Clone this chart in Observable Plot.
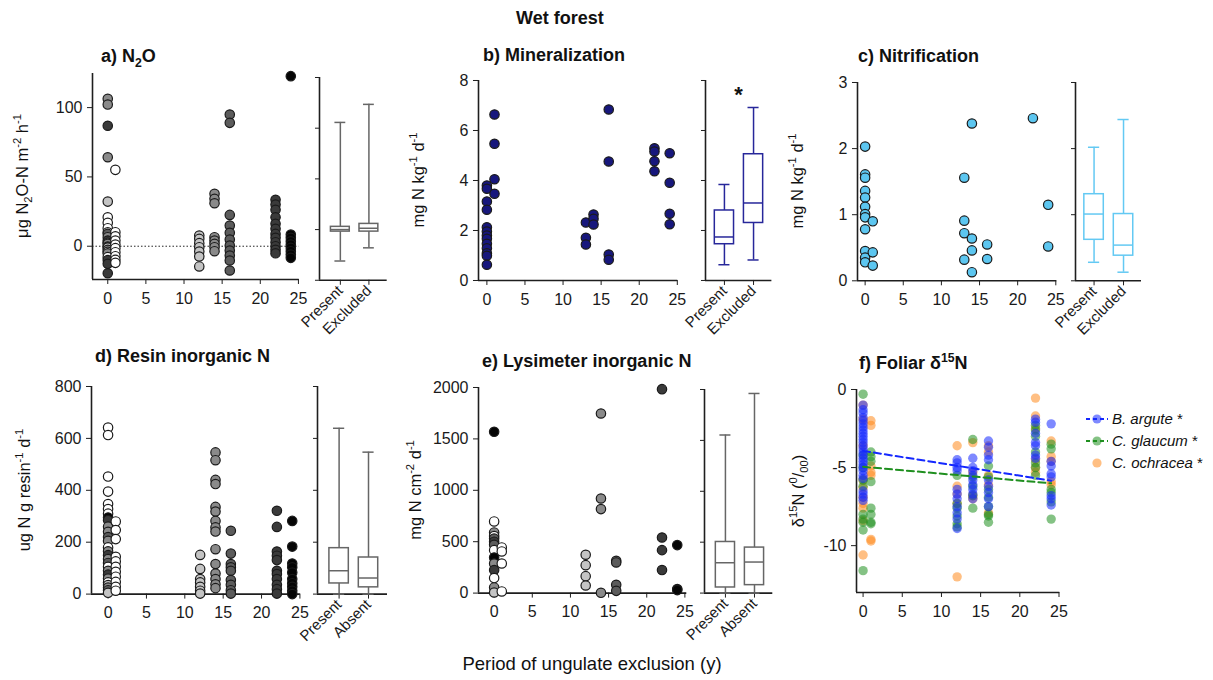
<!DOCTYPE html>
<html><head><meta charset="utf-8">
<script src="https://cdn.jsdelivr.net/npm/d3@7"></script>
<script src="https://cdn.jsdelivr.net/npm/@observablehq/plot@0.6"></script>
<style>
body{margin:0;background:#fff;}
#chart{position:relative;width:1213px;height:680px;background:#fff;font-family:"Liberation Sans",Arial,Helvetica,sans-serif;color:#111;overflow:hidden}
.t{position:absolute;font-weight:bold;font-size:18px;line-height:1;white-space:nowrap}
.yl{position:absolute;font-size:16.5px;line-height:1;white-space:nowrap;transform:translate(-50%,-50%) rotate(-90deg)}
sub,sup{font-size:68%;line-height:0}
.leg{position:absolute;font-size:15px;line-height:22px}
.leg div{display:flex;align-items:center;height:22px;white-space:nowrap}
.leg svg{margin-right:3px}
</style></head><body><div id="chart"></div>
<script>
// ---------- shared ----------
const xTicks = [0, 5, 10, 15, 20, 25];
const pairKeys = ["1", "12", "14", "16", "22", "24"];

// ---------- a) N2O ----------
const n2oTicks = [0, 50, 100];
const n2oCtrl = [106.3, 102.2, 86.9, 64.2, 32.2, 20.9, 16.9, 13.0, 10.0, 8.9, 6.5, 4.1, 2.5, 1.7, -0.2, -1.0, -2.6, -4.0, -5.1, -7.9, -10.0, -12.7, -19.5];
const n2oCtrlPair = ["14","14","22","14","12","1","1","1","1","16","14","22","1","14","16","12","14","1","14","1","22","22","22"];
const n2oAge1 = [55.1, 10.1, 7.2, 4.1, 1.2, -1.4, -4.3, -7.2, -9.8, -12.0];
const n2oAge12 = [7.7, 5.3, 2.2, -0.7, -3.8, -7.4, -14.6];
const n2oAge14 = [37.8, 34.2, 31.0, 6.5, 4.1, 1.7, -0.7, -3.6];
const n2oAge16 = [95.0, 89.0, 22.6, 14.9, 9.7, 4.8, 0.5, -3.1, -6.7, -10.3, -17.5];
const n2oAge22 = [33.5, 30.1, 26.3, 20.9, 16.2, 12.6, 8.9, 6.1, 2.9, 0.0, -2.6, -5.1];
const n2oAge24 = [122.7, 8.4, 6.1, 3.6, 1.2, -1.2, -3.6, -6.0, -8.4];
const n2oBoxGroups = ["Present", "Excluded"];
const n2oBoxTicks = [-50, 0, 50, 100, 150];
const n2oBoxMin = [-31, -18], n2oBoxQ1 = [-2, -2], n2oBoxMed = [0, 1.3], n2oBoxQ3 = [2.7, 5.6], n2oBoxMax = [105.7, 123.5];

// ---------- b) Mineralization ----------
const minTicks = [0, 2, 4, 6, 8];
const minAge0 = [3.8, 3.67, 3.16, 2.83, 2.13, 1.96, 1.8, 1.67, 1.47, 1.29, 1.09, 0.99, 0.63];
const minAge1 = [6.64, 5.47, 4.05, 3.47];
const minAge13 = [2.32, 1.71, 1.44];
const minAge14 = [2.64, 2.47, 2.24];
const minAge16 = [6.84, 4.76, 1.04, 0.83];
const minAge22 = [5.29, 5.16, 4.77, 4.37];
const minAge24 = [5.09, 3.91, 2.67, 2.25];
const minBoxGroups = ["Present", "Excluded"];
const minBoxMin = [0.63, 0.82], minBoxQ1 = [1.45, 2.3], minBoxMed = [1.74, 3.1], minBoxQ3 = [2.8, 5.05], minBoxMax = [3.84, 6.92];
const minSignif = "*";

// ---------- c) Nitrification ----------
const nitTicks = [0, 1, 2, 3];
const nitAge0 = [2.03, 1.61, 1.56, 1.36, 1.26, 1.12, 1.01, 0.96, 0.78, 0.45, 0.35, 0.28];
const nitAge1 = [0.9, 0.43, 0.23];
const nitAge13 = [1.56, 0.91, 0.72, 0.32];
const nitAge14 = [2.38, 0.64, 0.46, 0.13];
const nitAge16 = [0.55, 0.33];
const nitAge22 = [2.46];
const nitAge24 = [1.15, 0.52];
const nitBoxGroups = ["Present", "Excluded"];
const nitBoxMin = [0.28, 0.13], nitBoxQ1 = [0.62, 0.38], nitBoxMed = [1.01, 0.54], nitBoxQ3 = [1.31, 1.01], nitBoxMax = [2.02, 2.44];

// ---------- d) Resin inorganic N ----------
const resTicks = [0, 200, 400, 600, 800];
const resCtrl = [642, 613, 453, 395, 347, 328, 310, 295, 285, 260, 240, 220, 205, 180, 165, 150, 135, 120, 105, 90, 75, 60, 45, 35, 25, 15, 5];
const resCtrlPair = ["1","1","1","1","1","1","1","24","22","14","14","16","14","1","14","22","14","16","1","14","22","14","1","12","14","16","12"];
const resAge1 = [280, 247, 212, 144, 126, 105, 86, 67, 47, 28, 13];
const resAge12 = [151, 97, 58, 45, 28, 13, 2];
const resAge14 = [546, 516, 440, 424, 336, 318, 282, 257, 241, 173, 116, 79, 58, 38, 23];
const resAge16 = [244, 156, 116, 103, 90, 54, 36, 15, 2];
const resAge22 = [321, 259, 164, 148, 131, 90, 77, 58, 36, 19, 2];
const resAge24 = [282, 183, 118, 103, 83, 58, 42, 28, 13, 0];
const resBoxGroups = ["Present", "Absent"];
const resBoxMin = [0, 0], resBoxQ1 = [41, 26], resBoxMed = [90, 62], resBoxQ3 = [177, 141], resBoxMax = [639, 547];

// ---------- e) Lysimeter inorganic N ----------
const lysTicks = [0, 500, 1000, 1500, 2000];
const lysCtrl = [1569, 697, 590, 555, 530, 500, 470, 418, 346, 288, 224, 146, 55, 6];
const lysCtrlPair = ["24","1","14","1","16","22","16","1","24","14","22","1","14","12"];
const lysAge1 = [444, 405, 288, 16];
const lysAge12 = [373, 272, 165, 74];
const lysAge14 = [1747, 920, 817, 3];
const lysAge16 = [314, 298, 81, 22];
const lysAge22 = [1984, 541, 418, 224];
const lysAge24 = [467, 39, 29];
const lysBoxGroups = ["Present", "Absent"];
const lysBoxMin = [0, 0], lysBoxQ1 = [55, 78], lysBoxMed = [298, 305], lysBoxQ3 = [502, 447], lysBoxMax = [1553, 1961];

// ---------- f) Foliar d15N ----------
const folTicks = [-10, -5, 0];
const folAges = [0, 1, 12, 14, 16, 22, 24];
const argute = [
  [-1.0,-1.3,-1.5,-1.8,-2.0,-2.2,-2.4,-2.6,-2.8,-3.0,-3.2,-3.4,-3.6,-3.8,-4.0,-4.2,-4.4,-4.6,-4.8,-5.0,-5.2,-5.5,-5.7,-6.5,-6.7,-6.9,-7.1],
  [],
  [-4.5,-4.7,-5.0,-5.2,-6.4,-6.7,-7.0,-7.5,-7.9,-8.3,-8.9],
  [-4.4,-5.0,-5.2,-5.5,-5.8,-6.1,-6.4,-6.7,-7.0],
  [-3.3,-3.7,-4.2,-4.5,-5.8,-6.2,-6.6,-7.0,-7.5],
  [-1.9,-2.1,-2.8,-3.4,-3.6,-4.2,-4.4],
  [-2.2,-4.6,-4.9,-5.4,-5.6,-6.8,-7.0,-7.4]
];
const glaucum = [
  [-0.3,-4.2,-5.0,-5.8,-6.2,-8.0,-8.3,-8.5,-9.0,-11.6],
  [-4.0,-4.3,-4.6,-5.9,-7.6,-8.0,-8.5,-8.6],
  [-5.5,-7.3,-7.6,-8.1,-8.6,-8.8],
  [-3.2,-5.6,-6.2,-6.8,-7.6],
  [-4.9,-5.6,-6.4,-6.9,-7.5,-8.0,-8.1,-8.5],
  [-2.3,-2.6,-3.0,-4.0,-4.7,-5.0,-5.5],
  [-3.5,-3.8,-6.4,-6.6,-7.2,-8.3]
];
const ochracea = [
  [-1.0,-1.9,-3.6,-5.8,-6.3,-6.9,-7.3,-7.6,-8.4,-10.6],
  [-2.0,-2.3,-4.9,-5.3,-5.5,-9.6,-9.7],
  [-3.6,-6.2,-6.7,-7.3,-12.0],
  [-3.4,-5.3,-6.8,-7.0],
  [-3.6,-4.0,-5.5,-6.1,-7.9],
  [-0.55,-1.7,-2.5,-4.5,-5.0,-5.3],
  [-3.3,-4.3,-4.6,-5.9,-6.1]
];
const trendAges = [0, 24];
const arguteTrend = [-3.93, -5.84];
const glaucumTrend = [-4.95, -6.01];

// ---------- helpers ----------
const root = document.getElementById("chart");
const FONT = '"Liberation Sans", Arial, Helvetica, sans-serif';
const AX = "#1e1e1e";
const TICK_FS = 16;

function place(fr, opts) {
  const [x0, x1, y0, y1] = fr;
  const ml = 50, mr = 20, mt = 12, mb = 70;
  const svg = Plot.plot({
    width: x1 - x0 + ml + mr,
    height: y1 - y0 + mt + mb,
    marginLeft: ml, marginRight: mr, marginTop: mt, marginBottom: mb,
    style: {fontFamily: FONT, fontSize: "16px", color: "#1a1a1a", background: "transparent", overflow: "visible"},
    ...opts
  });
  svg.style.position = "absolute";
  svg.style.left = (x0 - ml) + "px";
  svg.style.top = (y0 - mt) + "px";
  svg.style.maxWidth = "none";
  root.appendChild(svg);
}

function rows(age, vals, pair) {
  return vals.map((v, i) => ({age, v, pair: pair ? pair[i] : String(age)}));
}

function scatter(fr, xDomain, yDomain, yTicks, marks, extra = [], colorOpt) {
  place(fr, {
    x: {domain: xDomain},
    y: {domain: yDomain},
    color: colorOpt,
    marks: [
      ...extra,
      Plot.ruleX([xDomain[0]], {stroke: AX, strokeWidth: 1.6}),
      Plot.ruleY([yDomain[0]], {stroke: AX, strokeWidth: 1.6}),
      Plot.axisX({ticks: xTicks, tickSize: 5, tickPadding: 8, label: null, stroke: AX, fontSize: TICK_FS}),
      Plot.axisY({ticks: yTicks, tickSize: 5, tickPadding: 5, label: null, stroke: AX, fontSize: TICK_FS, tickFormat: d => String(d)}),
      ...marks
    ]
  });
}

function boxPanel(fr, xDomain, yDomain, yTicks, groups, mins, q1s, meds, q3s, maxs, stroke, extra = []) {
  const data = groups.map((g, i) => ({i, g, min: mins[i], q1: q1s[i], med: meds[i], q3: q3s[i], max: maxs[i]}));
  const hw = 0.33, cw = 0.19;
  place(fr, {
    x: {domain: xDomain},
    y: {domain: yDomain},
    marks: [
      Plot.ruleX([xDomain[0]], {stroke: AX, strokeWidth: 1.6}),
      Plot.ruleY([yDomain[0]], {stroke: AX, strokeWidth: 1.6}),
      Plot.axisX({ticks: groups.map((g, i) => i), tickFormat: i => groups[i], tickRotate: -45, tickSize: 5, tickPadding: 3, label: null, stroke: AX, fontSize: 15}),
      Plot.axisY({ticks: yTicks, tickFormat: () => "", tickSize: 4, label: null, stroke: AX}),
      Plot.ruleX(data, {x: "i", y1: "min", y2: "q1", stroke, strokeWidth: 1.5}),
      Plot.ruleX(data, {x: "i", y1: "q3", y2: "max", stroke, strokeWidth: 1.5}),
      Plot.rect(data, {x1: d => d.i - hw, x2: d => d.i + hw, y1: "q1", y2: "q3", fill: "white", stroke, strokeWidth: 1.5}),
      Plot.ruleY(data, {y: "med", x1: d => d.i - hw, x2: d => d.i + hw, stroke, strokeWidth: 1.5}),
      Plot.ruleY(data, {y: "max", x1: d => d.i - cw, x2: d => d.i + cw, stroke, strokeWidth: 1.5}),
      Plot.ruleY(data, {y: "min", x1: d => d.i - cw, x2: d => d.i + cw, stroke, strokeWidth: 1.5}),
      ...extra.map(f => f(data))
    ]
  });
}

const grayScale = {type: "ordinal", domain: pairKeys, range: ["#ffffff", "#c4c4c4", "#8a8a8a", "#5c5c5c", "#3a3a3a", "#050505"]};
const dotStyle = {r: 4.7, stroke: "#1a1a1a", strokeWidth: 1.2};

// a) N2O
const n2oData = [
  ...rows(0, n2oCtrl, n2oCtrlPair), ...rows(1, n2oAge1), ...rows(12, n2oAge12), ...rows(14, n2oAge14),
  ...rows(16, n2oAge16), ...rows(22, n2oAge22), ...rows(24, n2oAge24)
];
scatter([92.3, 299, 73, 279], [-2.0, 25.1], [-24, 124.6], n2oTicks,
  [Plot.dot(n2oData, {x: "age", y: "v", fill: "pair", ...dotStyle})],
  [Plot.ruleY([0], {stroke: "#222", strokeWidth: 1, strokeDasharray: "1.5,2"})], grayScale);
boxPanel([319.3, 387, 76.7, 279.5], [-0.73, 1.64], [-50, 150], n2oBoxTicks, n2oBoxGroups,
  n2oBoxMin, n2oBoxQ1, n2oBoxMed, n2oBoxQ3, n2oBoxMax, "#666");

// b) Mineralization
const minData = [...rows(0, minAge0), ...rows(1, minAge1), ...rows(13, minAge13), ...rows(14, minAge14),
  ...rows(16, minAge16), ...rows(22, minAge22), ...rows(24, minAge24)];
scatter([478.3, 677.5, 80, 280], [-1.1, 25.05], [0, 8], minTicks,
  [Plot.dot(minData, {x: "age", y: "v", fill: "#17177c", ...dotStyle})]);
boxPanel([705.3, 771.7, 80, 280], [-0.65, 1.63], [0, 8], minTicks, minBoxGroups,
  minBoxMin, minBoxQ1, minBoxMed, minBoxQ3, minBoxMax, "#27279a",
  [data => Plot.text([data[1]], {x: "i", y: "max", text: () => minSignif, dx: -15, dy: -13, fontSize: 22, fontWeight: "bold", fill: "#111"})]);

// c) Nitrification
const nitData = [...rows(0, nitAge0), ...rows(1, nitAge1), ...rows(13, nitAge13), ...rows(14, nitAge14),
  ...rows(16, nitAge16), ...rows(22, nitAge22), ...rows(24, nitAge24)];
scatter([856.7, 1056, 81.7, 280], [-1.0, 25.13], [0, 3], nitTicks,
  [Plot.dot(nitData, {x: "age", y: "v", fill: "#5cc6f0", ...dotStyle})]);
boxPanel([1074.7, 1140.7, 81.7, 280], [-0.63, 1.61], [0, 3], nitTicks, nitBoxGroups,
  nitBoxMin, nitBoxQ1, nitBoxMed, nitBoxQ3, nitBoxMax, "#63c9f3");

// d) Resin
const resData = [
  ...rows(0, resCtrl, resCtrlPair), ...rows(1, resAge1), ...rows(12, resAge12), ...rows(14, resAge14),
  ...rows(16, resAge16), ...rows(22, resAge22), ...rows(24, resAge24)
];
scatter([90.7, 299.5, 385.7, 593.3], [-2.16, 25.05], [0, 800], resTicks,
  [Plot.dot(resData, {x: "age", y: "v", fill: "pair", ...dotStyle})], [], grayScale);
boxPanel([316.7, 386.7, 385.7, 593.3], [-0.735, 1.646], [0, 800], resTicks, resBoxGroups,
  resBoxMin, resBoxQ1, resBoxMed, resBoxQ3, resBoxMax, "#666");

// e) Lysimeter
const lysData = [
  ...rows(0, lysCtrl, lysCtrlPair), ...rows(1, lysAge1), ...rows(12, lysAge12), ...rows(14, lysAge14),
  ...rows(16, lysAge16), ...rows(22, lysAge22), ...rows(24, lysAge24)
];
scatter([477.7, 686, 386.7, 592.3], [-2.05, 25.25], [0, 2000], lysTicks,
  [Plot.dot(lysData, {x: "age", y: "v", fill: "pair", ...dotStyle})], [], grayScale);
boxPanel([704, 772.3, 388.7, 592.3], [-0.72, 1.63], [0, 2000], lysTicks, lysBoxGroups,
  lysBoxMin, lysBoxQ1, lysBoxMed, lysBoxQ3, lysBoxMax, "#666");

// f) Foliar
function species(arr) { return arr.flatMap((vals, k) => rows(folAges[k], vals)); }
const trend = (vals) => trendAges.map((a, i) => ({age: a, v: vals[i]}));
scatter([855.7, 1059, 389.3, 592.3], [-0.84, 25.1], [-13, 0], folTicks, [
  Plot.dot(species(ochracea), {x: "age", y: "v", r: 4.7, fill: "#ff8a1e", fillOpacity: 0.55}),
  Plot.dot(species(glaucum), {x: "age", y: "v", r: 4.7, fill: "#1f8f1f", fillOpacity: 0.55}),
  Plot.dot(species(argute), {x: "age", y: "v", r: 4.7, fill: "#1428ff", fillOpacity: 0.55}),
  Plot.line(trend(arguteTrend), {x: "age", y: "v", stroke: "#1428ff", strokeWidth: 2, strokeDasharray: "7,4"}),
  Plot.line(trend(glaucumTrend), {x: "age", y: "v", stroke: "#1f8f1f", strokeWidth: 2, strokeDasharray: "7,4"})
]);

// ---------- text ----------
function addHTML(html) { root.insertAdjacentHTML("beforeend", html); }
addHTML(`<div class="t" style="left:516px;top:9px">Wet forest</div>`);
addHTML(`<div class="t" style="left:101px;top:47px">a) N<sub>2</sub>O</div>`);
addHTML(`<div class="t" style="left:483px;top:46px">b) Mineralization</div>`);
addHTML(`<div class="t" style="left:858px;top:47px">c) Nitrification</div>`);
addHTML(`<div class="t" style="left:95px;top:347px">d) Resin inorganic N</div>`);
addHTML(`<div class="t" style="left:482px;top:352px">e) Lysimeter inorganic N</div>`);
addHTML(`<div class="t" style="left:859px;top:354px">f) Foliar δ<sup>15</sup>N</div>`);

addHTML(`<div class="yl" style="left:22px;top:176px">μg N<sub>2</sub>O-N m<sup>-2</sup> h<sup>-1</sup></div>`);
addHTML(`<div class="yl" style="left:418px;top:180px">mg N kg<sup>-1</sup> d<sup>-1</sup></div>`);
addHTML(`<div class="yl" style="left:797px;top:181px">mg N kg<sup>-1</sup> d<sup>-1</sup></div>`);
addHTML(`<div class="yl" style="left:24px;top:490px">ug N g resin<sup>-1</sup> d<sup>-1</sup></div>`);
addHTML(`<div class="yl" style="left:415px;top:490px">mg N cm<sup>-2</sup> d<sup>-1</sup></div>`);
addHTML(`<div class="yl" style="left:798px;top:491px">δ<sup>15</sup>N (<sup>0</sup>/<sub>00</sub>)</div>`);

addHTML(`<div style="position:absolute;left:592px;top:655px;transform:translateX(-50%);font-size:18.5px;line-height:1;white-space:nowrap">Period of ungulate exclusion (y)</div>`);

addHTML(`<div class="leg" style="left:1085px;top:408px">
 <div><svg width="24" height="14"><line x1="1" x2="23" y1="7" y2="7" stroke="#1428ff" stroke-width="2" stroke-dasharray="4,3"/><circle cx="12" cy="7" r="4.6" fill="#1428ff" fill-opacity="0.55"/></svg><span><i>B. argute</i> *</span></div>
 <div><svg width="24" height="14"><line x1="1" x2="23" y1="7" y2="7" stroke="#1f8f1f" stroke-width="2" stroke-dasharray="4,3"/><circle cx="12" cy="7" r="4.6" fill="#1f8f1f" fill-opacity="0.55"/></svg><span><i>C. glaucum</i> *</span></div>
 <div><svg width="24" height="14"><circle cx="12" cy="7" r="4.6" fill="#ff8a1e" fill-opacity="0.55"/></svg><span><i>C. ochracea</i> *</span></div>
</div>`);
</script></body></html>
